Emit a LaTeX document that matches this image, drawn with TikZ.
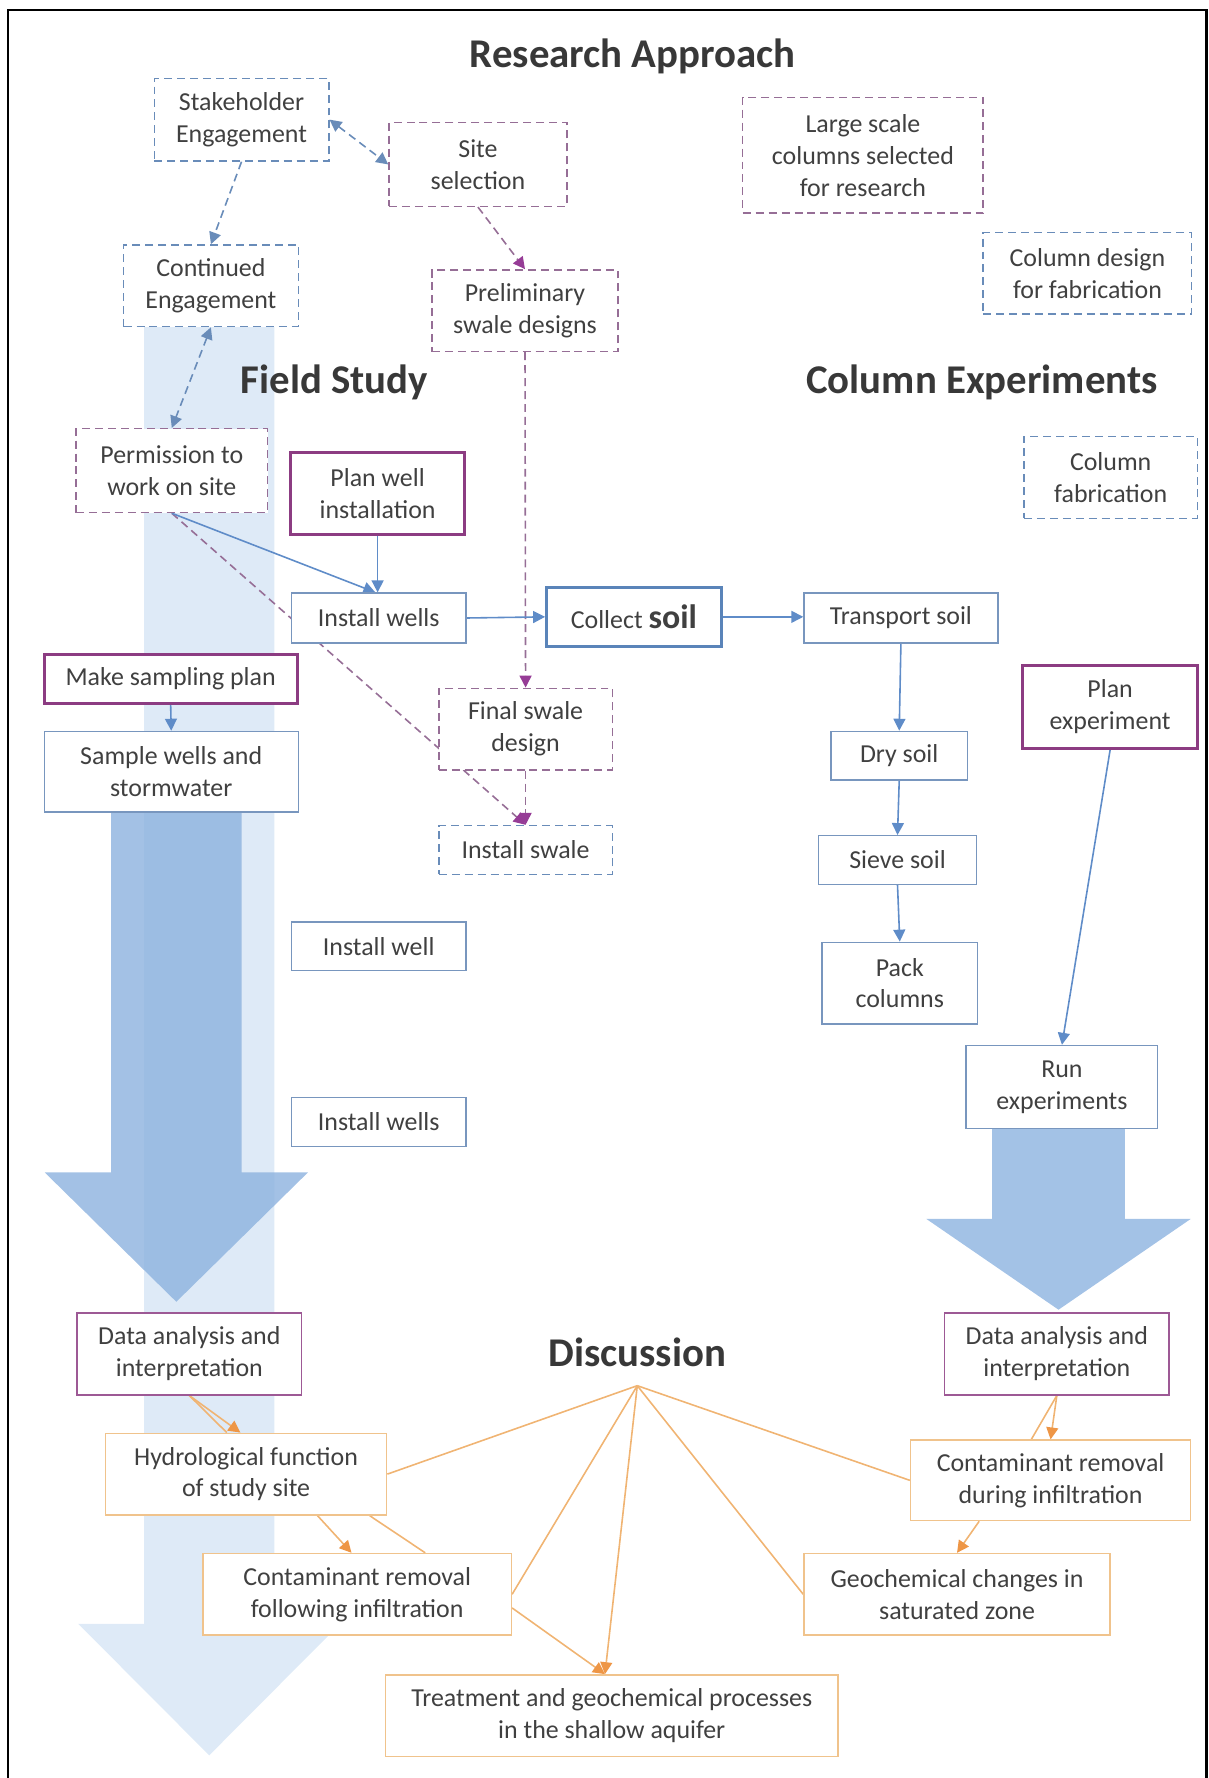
\documentclass[tikz,border=0pt]{standalone}
\usepackage{fontspec}
\setmainfont{Carlito}
\usetikzlibrary{arrows.meta,calc}

\pgfdeclarelayer{bg}
\pgfdeclarelayer{links}
\pgfsetlayers{bg,links,main}

\definecolor{txtgray}{RGB}{64,64,64}
\definecolor{boxblue}{RGB}{120,150,190}
\definecolor{soilblue}{RGB}{90,132,185}
\definecolor{lineblue}{RGB}{95,140,200}
\definecolor{dashblue}{RGB}{105,140,185}
\definecolor{plum}{RGB}{140,60,130}
\definecolor{dashplum}{RGB}{150,110,150}
\definecolor{tipplum}{RGB}{150,60,150}
\definecolor{boxorange}{RGB}{240,195,140}
\definecolor{lineorange}{RGB}{240,180,115}
\definecolor{tiporange}{RGB}{238,150,70}
\definecolor{palearrow}{RGB}{222,234,247}
\definecolor{midarrow}{RGB}{140,178,222}
\definecolor{rightarrow}{RGB}{163,194,230}

\newcommand{\soilfont}{\fontsize{17}{20}\selectfont\bfseries}

\tikzset{
  wh/.style 2 args={minimum width=#1*0.02cm, minimum height=#2*0.02cm},
  box/.style={draw, fill=white, align=center, inner sep=2pt, text=txtgray,
    font=\fontsize{13}{16}\selectfont, line width=0.7pt},
  blubox/.style={box, draw=boxblue},
  soilbox/.style={box, draw=soilblue, line width=1.5pt},
  bluedash/.style={box, draw=dashblue, dash pattern=on 4pt off 2.5pt},
  plumdash/.style={box, draw=dashplum, dash pattern=on 4pt off 2.5pt},
  plumbox/.style={box, draw=plum, line width=1.5pt},
  plumthin/.style={box, draw=plum!85, line width=0.8pt},
  orbox/.style={box, draw=boxorange},
  heading/.style={font=\fontsize{20.5}{24}\selectfont\bfseries, text=black!78},
  dashlink/.style={dashblue, line width=0.8pt, dash pattern=on 4pt off 2.5pt},
  plumlink/.style={dashplum, line width=0.8pt, dash pattern=on 4pt off 2.5pt,
    >={Triangle[length=6pt,width=6pt,color=tipplum]}},
  solidlink/.style={lineblue, line width=0.8pt},
  orlink/.style={lineorange, line width=0.8pt,
    >={Triangle[length=6pt,width=6pt,color=tiporange]}},
}

\begin{document}
\begin{tikzpicture}[x=0.02cm, y=-0.02cm, >={Triangle[length=6pt,width=6pt]}]

\useasboundingbox (0,0) rectangle (1066,1568);

% frame
\draw[line width=1.2pt] (7,1568) -- (7,9) -- (1064,9) -- (1064,1568);

% big arrows
\begin{pgfonlayer}{bg}
\fill[palearrow] (127,270) -- (242,270) -- (242,1432) -- (300,1432) -- (184.5,1548) -- (69,1432) -- (127,1432) -- cycle;
\fill[midarrow, fill opacity=0.8] (98,700) -- (213,700) -- (213,1034) -- (271.5,1034) -- (155.5,1148) -- (39.5,1034) -- (98,1034) -- cycle;
\fill[rightarrow] (875,980) -- (992,980) -- (992,1075) -- (1050,1075) -- (933.5,1155) -- (817,1075) -- (875,1075) -- cycle;
\end{pgfonlayer}

% headings
\node[heading] (approach) at (558,50) {Research Approach};
\node[heading] (field) at (295,337) {Field Study};
\node[heading] (column) at (866,337) {Column Experiments};
\node[heading] (discuss) at (562,1193) {Discussion};
\coordinate (hub) at (562,1222);

% field study
\node[bluedash, wh={154}{73}] (stake) at (213,105.5) {Stakeholder\\Engagement};
\node[plumdash, wh={157}{74}] (site) at (421.5,145) {Site\\selection};
\node[bluedash, wh={154}{72}] (contd) at (186,252) {Continued\\Engagement};
\node[plumdash, wh={164}{72}] (prelim) at (463,274) {Preliminary\\swale designs};
\node[plumdash, wh={169}{74}] (permit) at (151.5,415) {Permission to\\work on site};
\node[plumbox, wh={154}{72}] (planwell) at (333,435) {Plan well\\installation};
\node[blubox, wh={154}{44}] (wells) at (334,545) {Install wells};
\node[plumbox, wh={223}{43}] (sampplan) at (150.5,598.5) {Make sampling plan};
\node[blubox, wh={224}{71}] (sampwells) at (151,680.5) {Sample wells and\\stormwater};
\node[plumdash, wh={153}{72}] (final) at (463.5,643) {Final swale\\design};
\node[bluedash, wh={153}{43}] (swale) at (463.5,749.5) {Install swale};
\node[blubox, wh={154}{43}] (wellone) at (334,834.5) {Install well};
\node[blubox, wh={154}{43}] (welltwo) at (334,989.5) {Install wells};

% column experiments
\node[plumdash, wh={212}{102}] (large) at (761,137) {Large scale\\columns selected\\for research};
\node[bluedash, wh={184}{72}] (design) at (959,241) {Column design\\for fabrication};
\node[bluedash, wh={153}{72}] (fabric) at (979.5,421) {Column\\fabrication};
\node[soilbox, wh={154}{52}] (collect) at (559,544) {Collect {\soilfont soil}};
\node[blubox, wh={171}{44}] (transport) at (794.5,545) {Transport soil};
\node[blubox, wh={120}{43}] (dry) at (793,666.5) {Dry soil};
\node[blubox, wh={139}{43}] (sieve) at (791.5,758.5) {Sieve soil};
\node[blubox, wh={137}{72}] (pack) at (793.5,867) {Pack\\columns};
\node[plumbox, wh={154}{73}] (planexp) at (979,623.5) {Plan\\experiment};
\node[blubox, wh={169}{73}] (runexp) at (936.5,958.5) {Run\\experiments};

% discussion
\node[plumthin, wh={198}{72}] (dataL) at (167,1194) {Data analysis and\\interpretation};
\node[plumthin, wh={198}{72}] (dataR) at (932,1194) {Data analysis and\\interpretation};
\node[orbox, wh={248}{72}] (hydro) at (217,1300) {Hydrological function\\of study site};
\node[orbox, wh={247}{71}] (contdur) at (926.5,1305.5) {Contaminant removal\\during infiltration};
\node[orbox, wh={272}{72}] (contfol) at (315,1406) {Contaminant removal\\following infiltration};
\node[orbox, wh={270}{72}] (geo) at (844,1406) {Geochemical changes in\\saturated zone};
\node[orbox, wh={399}{72}] (treat) at (539.5,1513) {Treatment and geochemical processes\\in the shallow aquifer};

\begin{pgfonlayer}{links}
\draw[dashlink, <->] (stake.east) -- (site.west);
\draw[dashlink, ->] (stake.south) -- (contd.north);
\draw[dashlink, <->] (contd.south) -- (permit.north);
\draw[plumlink, ->] (site.south) -- (prelim.north);
\draw[plumlink, ->] (prelim.south) -- (final.north);
\draw[plumlink, ->] (final.south) -- (swale.north);
\draw[plumlink, ->] (permit.south) -- (swale.north);

\draw[solidlink, ->] (permit.south) -- ($(wells.north)+(-3,0)$);
\draw[solidlink, ->] (planwell.south) -- (planwell.south |- wells.north);
\draw[solidlink, ->] (wells.east) -- (collect.west);
\draw[solidlink, ->] (collect.east) -- (collect.east -| transport.west);
\draw[solidlink, ->] (sampplan.south) -- (sampwells.north);
\draw[solidlink, ->] (transport.south) -- (dry.north);
\draw[solidlink, ->] (dry.south) -- (sieve.north);
\draw[solidlink, ->] (sieve.south) -- (pack.north);
\draw[solidlink, ->] (planexp.south) -- (runexp.north);

\draw[orlink, ->] (dataL.south) -- ($(hydro.north)+(-5,0)$);
\draw[orlink] (dataL.south) -- ($(hydro.north)+(-17,0)$);
\draw[orlink, ->] ($(hydro.south)+(63,0)$) -- ($(contfol.north)+(-5,0)$);
\draw[orlink] ($(hydro.south)+(109,0)$) -- ($(contfol.north)+(60,0)$);
\draw[orlink, ->] ($(contfol.east)+(0,12)$) -- ($(treat.north)+(-6,0)$);
\draw[orlink, ->] (dataR.south) -- (contdur.north);
\draw[orlink] (dataR.south) -- ($(contdur.north)+(-17,0)$);
\draw[orlink, ->] ($(contdur.south)+(-63,0)$) -- (geo.north);
\draw[orlink] (hub) -- (hydro.east);
\draw[orlink] (hub) -- (contfol.east);
\draw[orlink, ->] (hub) -- ($(treat.north)+(-6,0)$);
\draw[orlink] (hub) -- (geo.west);
\draw[orlink] (hub) -- (contdur.west);
\end{pgfonlayer}

\end{tikzpicture}
\end{document}
